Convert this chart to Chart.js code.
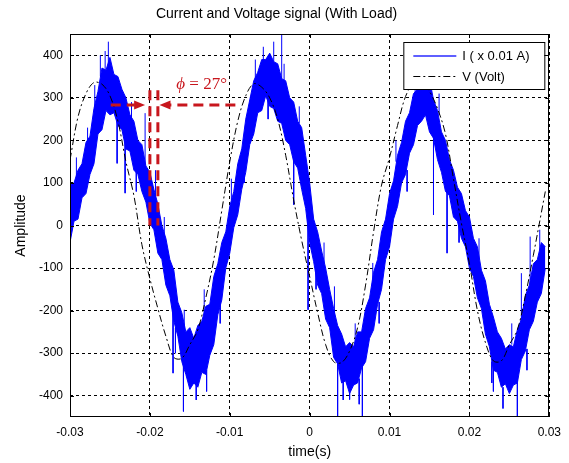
<!DOCTYPE html>
<html>
<head>
<meta charset="utf-8">
<script src="https://cdn.jsdelivr.net/npm/chart.js@4.4.1/dist/chart.umd.min.js"></script>
<style>
  html, body { margin: 0; padding: 0; background: #fff; }
  canvas { display: block; }
</style>
</head>
<body>
<canvas id="signalChart" width="569" height="463"></canvas>
<script>
const titleText = "Current and Voltage signal (With Load)";
const xTitle = "time(s)";
const yTitle = "Amplitude";
const seriesLabels = ["I ( x 0.01 A)", "V (Volt)"];
const phaseLabel = ["\u03D5", " = 27\u00B0"];

const xTicks = [-0.03, -0.02, -0.01, 0, 0.01, 0.02, 0.03];
const xTickLabels = ["-0.03", "-0.02", "-0.01", "0", "0.01", "0.02", "0.03"];
const yTicks = [-400, -300, -200, -100, 0, 100, 200, 300, 400];
const yTickLabels = ["-400", "-300", "-200", "-100", "0", "100", "200", "300", "400"];

// voltage (time in ms)
const voltTimeMs = [-30, -29, -28, -27, -26, -25, -24, -23, -22, -21, -20, -19, -18, -17, -16, -15, -14, -13, -12, -11,
  -10, -9, -8, -7, -6, -5, -4, -3, -2, -1, 0, 1, 2, 3, 4, 5, 6, 7, 8, 9,
  10, 11, 12, 13, 14, 15, 16, 17, 18, 19, 20, 21, 22, 23, 24, 25, 26, 27, 28, 29, 29.5];
const voltValues = [154, 255, 310, 336, 332, 305, 245, 150, 70, -45, -125, -195, -260, -310, -312, -280, -245, -170, -80, 35,
  150, 245, 305, 333, 325, 300, 250, 165, 60, -35, -120, -205, -280, -320, -322, -295, -240, -140, -15, 95,
  160, 235, 303, 333, 335, 315, 275, 215, 110, 5, -90, -200, -275, -318, -318, -280, -245, -165, -70, 30, 80];

// current, lower and upper edge of the noisy band (time in ms)
const currentTimeMs = [-30, -29.5, -29, -28.5, -28, -27.5, -27, -26.5, -26, -25.5, -25, -24.5, -24, -23.5, -23, -22.5, -22, -21.5, -21, -20.5,
  -20, -19.5, -19, -18.5, -18, -17.5, -17, -16.5, -16, -15.5, -15, -14.5, -14, -13.5, -13, -12.5, -12, -11.5, -11, -10.5,
  -10, -9.5, -9, -8.5, -8, -7.5, -7, -6.5, -6, -5.5, -5, -4.5, -4, -3.5, -3, -2.5, -2, -1.5, -1, -0.5,
  0, 0.5, 1, 1.5, 2, 2.5, 3, 3.5, 4, 4.5, 5, 5.5, 6, 6.5, 7, 7.5, 8, 8.5, 9, 9.5,
  10, 10.5, 11, 11.5, 12, 12.5, 13, 13.5, 14, 14.5, 15, 15.5, 16, 16.5, 17, 17.5, 18, 18.5, 19, 19.5,
  20, 20.5, 21, 21.5, 22, 22.5, 23, 23.5, 24, 24.5, 25, 25.5, 26, 26.5, 27, 27.5, 28, 28.5, 29, 29.5];
const currentLow = [-40, 10, 15, 65, 75, 120, 145, 215, 225, 270, 260, 265, 235, 225, 180, 175, 130, 120, 80, 55,
  5, -10, -65, -80, -140, -165, -225, -260, -320, -350, -385, -370, -380, -345, -350, -305, -280, -210, -175, -100,
  -65, -5, 25, 85, 125, 190, 215, 265, 270, 305, 280, 275, 245, 240, 200, 190, 150, 135, 85, 40,
  -40, -85, -140, -160, -220, -240, -310, -325, -370, -365, -395, -375, -370, -335, -320, -265, -245, -185, -150, -80,
  -50, 15, 45, 100, 120, 170, 190, 235, 245, 260, 220, 205, 155, 125, 80, 70, 20, 10, -30, -50,
  -100, -120, -170, -195, -255, -285, -340, -345, -380, -372, -395, -375, -370, -315, -295, -245, -225, -180, -160, -100];
const currentHigh = [95, 100, 130, 145, 195, 210, 275, 315, 370, 365, 395, 355, 350, 320, 300, 260, 245, 200, 190, 140,
  125, 85, 50, 0, -30, -80, -105, -180, -205, -250, -240, -265, -235, -225, -190, -185, -120, -90, -40, -15,
  45, 80, 145, 180, 250, 295, 340, 360, 390, 390, 405, 385, 380, 345, 340, 300, 290, 245, 230, 165,
  100, 15, -15, -60, -100, -150, -195, -235, -255, -285, -275, -285, -250, -250, -195, -170, -110, -80, -15, 15,
  75, 105, 165, 195, 245, 265, 310, 320, 360, 365, 345, 295, 270, 220, 200, 155, 130, 90, 75, 35,
  20, -30, -50, -105, -130, -185, -215, -250, -265, -290, -280, -285, -245, -220, -165, -140, -90, -80, -40, -50];

// isolated spikes on the current trace
const spikeTimeMs = [-25.2, -24.1, -23.1, -20.6, -17.1, -15.8, -15.7, -4.5, -3.5, -2.0, -0.2, 3.1, 3.5, 5.0, 6.6, 7.9, 15.5, 17.2, 23.0, 26.0, 26.5, 27.6,
  -29.2, -27.8, -26.9, -26.2, -25.6, -22.3, -21.7, -19.3, -18.2, -16.8, -14.2, -13.2, -12.9, -11.2, -9.8, -8.2, -6.8, -5.8, -5.2,
  -3.2, -1.3, 0.8, 1.8, 4.2, 5.7, 6.2, 8.7, 10.8, 12.2, 13.2, 16.2, 18.7, 21.2, 22.8, 24.2, 25.3, 27.2, 28.8];
const spikeBase = [330, 300, 250, 100, -150, -300, -300, 350, 300, 230, 80, -260, -280, -330, -300, -180, 260, 130, -280, -320, -270, -200,
  110, 180, 260, 350, 360, 230, 140, 60, -50, -240, -360, -210, -340, -180, 60, 150, 340, 380, 300,
  330, 240, -100, -90, -360, -280, -360, -180, 150, 130, 310, 260, 10, -80, -320, -380, -280, -290, -60];
const spikeTip = [432, 146, 76, 264, -347, -437, -198, 432, 450, 49, -198, -143, -450, -409, -450, -88, 25, -65, -390, -450, -112, -26,
  160, 230, 330, 400, 410, 290, 80, 130, 20, -300, -410, -150, -390, -230, 110, 100, 390, 420, 250,
  380, 280, -150, -40, -410, -230, -420, -230, 200, 80, 350, 310, -40, -30, -370, -430, -230, -340, -10];

const BLUE = "#0000ff";
const RED = "#c8161d";
const FONT = "'Liberation Sans', Arial, sans-serif";

const toPts = (ts, vs) => ts.map((t, i) => ({ x: t / 1000, y: vs[i] }));
const spikePts = [];
spikeTimeMs.forEach((t, i) => {
  spikePts.push({ x: t / 1000, y: spikeBase[i] }, { x: t / 1000, y: spikeTip[i] }, { x: t / 1000, y: null });
});

const framePlugin = {
  id: "frame",
  afterDatasetsDraw(chart) {
    const { ctx, chartArea: a, scales: { x, y } } = chart;
    ctx.save();

    // phase annotation
    ctx.strokeStyle = RED;
    ctx.fillStyle = RED;
    ctx.lineWidth = 3;
    ctx.setLineDash([10, 6]);
    const line = (x1, y1, x2, y2) => {
      ctx.beginPath();
      ctx.moveTo(x.getPixelForValue(x1), y.getPixelForValue(y1));
      ctx.lineTo(x.getPixelForValue(x2), y.getPixelForValue(y2));
      ctx.stroke();
    };
    const head = (xt, yt, dir) => {
      const px = x.getPixelForValue(xt), py = y.getPixelForValue(yt);
      ctx.beginPath();
      ctx.moveTo(px, py);
      ctx.lineTo(px - dir * 11, py - 4.5);
      ctx.lineTo(px - dir * 11, py + 4.5);
      ctx.closePath();
      ctx.fill();
    };
    line(-0.0249, 283, -0.0219, 283);
    line(-0.0200, 318, -0.0200, 0);
    line(-0.0190, 318, -0.0190, 0);
    line(-0.0093, 283, -0.0175, 283);
    head(-0.0206, 283, 1);
    head(-0.0188, 283, -1);
    ctx.setLineDash([]);
    ctx.textBaseline = "alphabetic";
    ctx.textAlign = "left";
    let tx = x.getPixelForValue(-0.0167);
    const ty = y.getPixelForValue(320);
    ctx.font = "italic 17px 'Liberation Serif', 'DejaVu Serif', serif";
    ctx.fillText(phaseLabel[0], tx, ty);
    tx += ctx.measureText(phaseLabel[0]).width;
    ctx.font = "17px 'Liberation Serif', 'DejaVu Serif', serif";
    ctx.fillText(phaseLabel[1], tx, ty);

    // legend
    const lx = a.right - 146, ly = a.top + 8, lw = 141, lh = 47;
    ctx.fillStyle = "#fff";
    ctx.fillRect(lx, ly, lw, lh);
    ctx.strokeStyle = "#000";
    ctx.lineWidth = 1;
    ctx.strokeRect(lx + 0.5, ly + 0.5, lw, lh);
    ctx.beginPath();
    ctx.strokeStyle = "#2a2aff";
    ctx.lineWidth = 1.4;
    ctx.moveTo(lx + 10, ly + 14);
    ctx.lineTo(lx + 53, ly + 14);
    ctx.stroke();
    ctx.lineWidth = 1;
    ctx.beginPath();
    ctx.strokeStyle = "#000";
    ctx.setLineDash([7, 3, 2, 3]);
    ctx.moveTo(lx + 10, ly + 34.5);
    ctx.lineTo(lx + 53, ly + 34.5);
    ctx.stroke();
    ctx.setLineDash([]);
    ctx.fillStyle = "#000";
    ctx.font = "13px " + FONT;
    ctx.textBaseline = "middle";
    ctx.fillText(seriesLabels[0], lx + 59, ly + 14);
    ctx.fillText(seriesLabels[1], lx + 59, ly + 35);

    // axes box and inward tick marks
    ctx.strokeStyle = "#000";
    ctx.lineWidth = 1;
    ctx.strokeRect(Math.round(a.left) + 0.5, Math.round(a.top) + 0.5, Math.round(a.width) - 1, Math.round(a.height) - 1);
    ctx.beginPath();
    xTicks.forEach((v) => {
      const px = Math.round(x.getPixelForValue(v)) + 0.5;
      ctx.moveTo(px, a.bottom); ctx.lineTo(px, a.bottom - 4);
      ctx.moveTo(px, a.top); ctx.lineTo(px, a.top + 4);
    });
    yTicks.forEach((v) => {
      const py = Math.round(y.getPixelForValue(v)) + 0.5;
      ctx.moveTo(a.left, py); ctx.lineTo(a.left + 4, py);
      ctx.moveTo(a.right, py); ctx.lineTo(a.right - 4, py);
    });
    ctx.stroke();
    ctx.restore();
  },
};

new Chart(document.getElementById("signalChart"), {
  type: "line",
  data: {
    datasets: [
      { label: "low", data: toPts(currentTimeMs, currentLow), borderColor: BLUE, borderWidth: 1, pointRadius: 0, tension: 0, fill: false, order: 3 },
      { label: seriesLabels[0], data: toPts(currentTimeMs, currentHigh), borderColor: BLUE, backgroundColor: BLUE, borderWidth: 1, pointRadius: 0, tension: 0, fill: "-1", order: 2 },
      { label: "spikes", data: spikePts, borderColor: BLUE, borderWidth: 1, pointRadius: 0, spanGaps: false, fill: false, order: 1 },
      { label: seriesLabels[1], data: toPts(voltTimeMs, voltValues), borderColor: "#000", borderWidth: 1, borderDash: [7, 3, 2, 3], pointRadius: 0, tension: 0.35, fill: false, order: 0 },
    ],
  },
  options: {
    responsive: false,
    animation: false,
    layout: { padding: { left: 0, right: 16, top: 0, bottom: 0 } },
    plugins: {
      legend: { display: false },
      tooltip: { enabled: false },
      title: {
        display: true,
        text: titleText,
        color: "#000",
        font: { family: FONT, size: 14, weight: "normal", lineHeight: 1.2 },
        padding: { top: 6, bottom: 11.2 },
      },
    },
    scales: {
      x: {
        type: "linear",
        min: -0.03,
        max: 0.03,
        afterBuildTicks: (s) => { s.ticks = xTicks.map((v) => ({ value: v })); },
        afterFit: (s) => { s.height = 46; },
        ticks: {
          callback: (v) => xTickLabels[xTicks.findIndex((t) => Math.abs(t - v) < 1e-9)],
          color: "#000",
          font: { family: FONT, size: 12 },
          padding: 8,
          maxRotation: 0,
        },
        grid: { color: "#000", lineWidth: 1, drawTicks: false },
        border: { display: false, dash: [3, 3] },
        title: { display: true, text: xTitle, color: "#000", font: { family: FONT, size: 14 }, padding: { top: 0, bottom: 2.6 } },
      },
      y: {
        min: -450,
        max: 450,
        afterBuildTicks: (s) => { s.ticks = yTicks.map((v) => ({ value: v })); },
        afterFit: (s) => { s.width = 70; },
        ticks: {
          callback: (v) => yTickLabels[yTicks.indexOf(v)],
          color: "#000",
          font: { family: FONT, size: 12 },
          padding: 7,
        },
        grid: { color: "#000", lineWidth: 1, drawTicks: false },
        border: { display: false, dash: [3, 3] },
        title: { display: true, text: yTitle, color: "#000", font: { family: FONT, size: 14 }, padding: { top: 13, bottom: 0 } },
      },
    },
  },
  plugins: [framePlugin],
});
</script>
</body>
</html>
